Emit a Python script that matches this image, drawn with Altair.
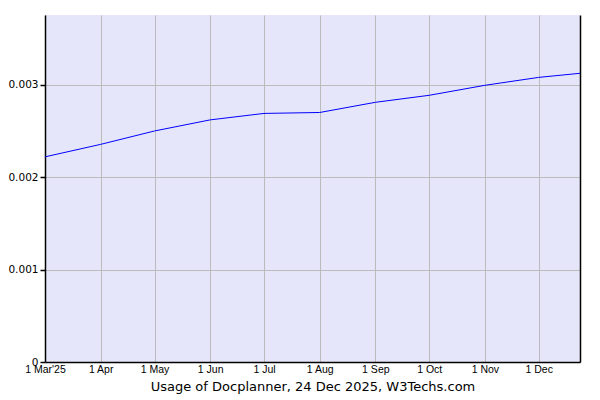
import altair as alt
import pandas as pd

dates = ["2025-03-01", "2025-04-01", "2025-05-01", "2025-06-01", "2025-07-01",
         "2025-08-01", "2025-09-01", "2025-10-01", "2025-11-01", "2025-12-01",
         "2025-12-24"]
usage = [0.00222, 0.002355, 0.0025, 0.00262, 0.00269, 0.0027, 0.00281,
         0.002886, 0.002994, 0.00308, 0.003124]

tick_dates = ["2025-03-01", "2025-04-01", "2025-05-01", "2025-06-01", "2025-07-01",
              "2025-08-01", "2025-09-01", "2025-10-01", "2025-11-01", "2025-12-01"]
tick_labels = ["1 Mar'25", "1 Apr", "1 May", "1 Jun", "1 Jul", "1 Aug",
               "1 Sep", "1 Oct", "1 Nov", "1 Dec"]
y_ticks = [0, 0.001, 0.002, 0.003]
y_labels = ["0", "0.001", "0.002", "0.003"]

df = pd.DataFrame({"date": pd.to_datetime(dates), "usage": usage})

label_expr = "".join(
    f"timeFormat(datum.value, '%m-%d') == '{d[5:]}' ? \"{l}\" : " for d, l in zip(tick_dates, tick_labels)
) + "''"
ylabel_expr = "".join(
    f"datum.value == {v} ? '{l}' : " for v, l in zip(y_ticks, y_labels)
) + "''"

x_scale = alt.Scale(domain=[pd.Timestamp("2025-03-01").isoformat(), pd.Timestamp("2025-12-24").isoformat()], nice=False)
y_scale = alt.Scale(domain=[0, 0.003755], nice=False, zero=True)

x_enc = alt.X("date:T", scale=x_scale,
              axis=alt.Axis(values=[pd.Timestamp(d).isoformat() for d in tick_dates],
                            labelExpr=label_expr,
                            title="Usage of Docplanner, 24 Dec 2025, W3Techs.com",
                            titleFont="DejaVu Sans", titleFontSize=13, titleFontWeight="normal",
                            titleColor="#000", titlePadding=6,
                            labelFont="Liberation Sans", labelFontSize=10.5, labelColor="#000",
                            labelPadding=2, labelFlush=False, labelOverlap=False,
                            ticks=False, domain=True, domainColor="#000", domainWidth=1.5,
                            grid=True, gridColor="#bbbbbb", gridWidth=1))

line = alt.Chart(df).mark_line(color="#0000ff", strokeWidth=1).encode(
    x=x_enc,
    y=alt.Y("usage:Q", scale=y_scale,
            axis=alt.Axis(values=y_ticks, labelExpr=ylabel_expr, title=None,
                          labelFont="DejaVu Sans", labelFontSize=10.5, labelColor="#000",
                          labelPadding=2, tickSize=5, tickColor="#000", tickWidth=1.5,
                          domainColor="#000", domainWidth=1.5,
                          grid=True, gridColor="#bbbbbb", gridWidth=1))
)

right = alt.Chart(df).mark_line(opacity=0).encode(
    x=alt.X("date:T", scale=x_scale),
    y=alt.Y("usage:Q", scale=y_scale,
            axis=alt.Axis(orient="right", labels=False, ticks=False, title=None, grid=False,
                          domainColor="#000", domainWidth=1.5))
)

chart = alt.layer(line, right).resolve_axis(y="independent").properties(
    width=535, height=347,
    autosize=alt.AutoSizeParams(type="none"),
    padding={"left": 37, "top": 7, "right": 10, "bottom": 40},
    background="#ffffff",
).configure_view(fill="#e6e6fa", stroke=None)

chart.save("out.html", embed_options={"renderer": "svg", "actions": False})
